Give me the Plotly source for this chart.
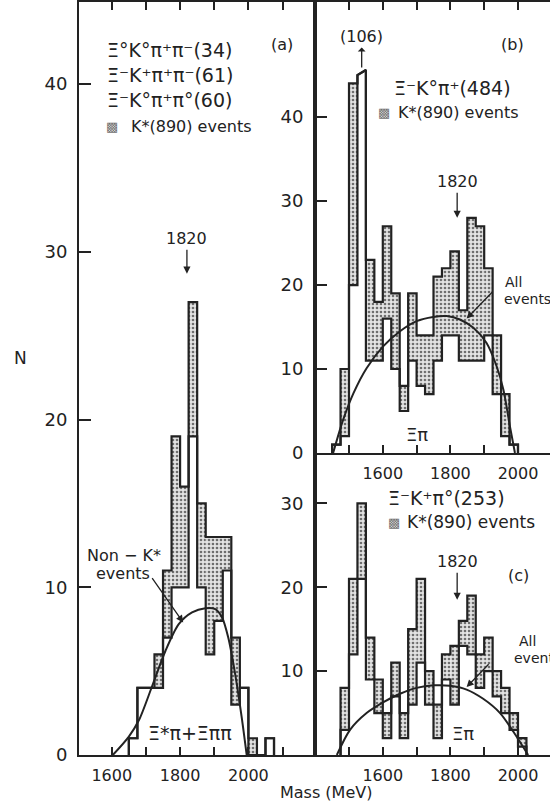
import plotly.graph_objects as go

BIN_W = 25

# ---------------- data ----------------
# Panel (a): Xi K pi pi channels
a_left = [1650, 1675, 1700, 1725, 1750, 1775, 1800, 1825, 1850, 1875, 1900, 1925, 1950, 1975, 2000, 2025, 2050]
a_total = [1, 4, 4, 6, 11, 19, 16, 27, 15, 13, 13, 13, 7, 4, 1, 0, 1]
a_nonk = [1, 4, 4, 4, 7, 10, 10, 19, 10, 6, 8, 11, 3, 4, 0, 0, 1]
a_curve_m = [1603, 1650, 1680, 1718, 1757, 1796, 1835, 1874, 1903, 1923, 1941, 1961, 1980, 1995]
a_curve_n = [0, 1.1, 2.1, 4.1, 6.2, 7.8, 8.5, 8.75, 8.7, 8.2, 7.0, 4.85, 2.3, 0]

# Panel (b): Xi- K0 pi+ (484)
b_left = [1450, 1475, 1500, 1525, 1550, 1575, 1600, 1625, 1650, 1675, 1700, 1725, 1750, 1775, 1800, 1825, 1850, 1875, 1900, 1925, 1950, 1975]
b_total = [1, 10, 44, 106, 23, 18, 27, 19, 8, 19, 14, 14, 21, 22, 24, 17, 28, 27, 22, 14, 7, 1]
b_nonk = [1, 2, 20, 106, 11, 11, 16, 10, 5, 11, 8, 7, 11, 14, 14, 11, 11, 11, 14, 7, 2, 1]
b_curve_m = [1453, 1483, 1513, 1552, 1601, 1651, 1700, 1749, 1789, 1828, 1868, 1907, 1937, 1957, 1976, 1991]
b_curve_n = [0, 4.0, 7.1, 10.1, 12.7, 14.5, 15.7, 16.2, 16.3, 15.9, 14.9, 13.1, 10.3, 7.5, 3.2, 0]

# Panel (c): Xi- K+ pi0 (253)
c_left = [1475, 1500, 1525, 1550, 1575, 1600, 1625, 1650, 1675, 1700, 1725, 1750, 1775, 1800, 1825, 1850, 1875, 1900, 1925, 1950, 1975, 2000]
c_total = [8, 21, 30, 14, 9, 5, 11, 5, 15, 21, 10, 6, 12, 13, 16, 19, 12, 14, 10, 8, 5, 2]
c_nonk = [3, 12, 21, 9, 5, 2, 7, 2, 6, 11, 6, 2, 9, 6, 13, 12, 8, 10, 7, 5, 3, 1]
c_curve_m = [1464, 1503, 1552, 1602, 1651, 1700, 1750, 1799, 1848, 1897, 1947, 1986, 2030]
c_curve_n = [0, 3.0, 5.0, 6.3, 7.3, 8.0, 8.3, 8.25, 7.8, 6.7, 5.0, 2.8, 0]

x_ticks_a = [1600, 1700, 1800, 1900, 2000, 2100]
x_text_a = ["1600", "", "1800", "", "2000", ""]
x_ticks_bc = [1500, 1600, 1700, 1800, 1900, 2000]
x_text_bc = ["", "1600", "", "1800", "", "2000"]

# ---------------- styling ----------------
W, H = 550, 807
FONT = "DejaVu Sans"
INK = "#222222"
B_CAP = (45.0, 45.6, 46.0)  # slanted top drawn for the off-scale (106) bin

XA = [79 / W, 315 / W]
XB = [315 / W, 1.0]
YA = [1 - 755 / H, 1 - 2 / H]
YB = [1 - 453 / H, 1 - 2 / H]
YC = [1 - 755 / H, 1 - 453 / H]


def step_xy(left, vals, cap=None):
    xs, ys = [left[0]], [0]
    for l, v in zip(left, vals):
        r = l + BIN_W
        lo = hi = v
        if cap is not None and v > cap[2]:
            lo, hi = cap[0], cap[1]
        xs += [l, r]
        ys += [lo, hi]
    xs.append(left[-1] + BIN_W)
    ys.append(0)
    return xs, ys


fig = go.Figure()


def add_panel(left, total, nonk, cm, cn, xa, ya, cap=None):
    centers = [l + BIN_W / 2 for l in left]
    kstar = [t - n for t, n in zip(total, nonk)]
    fig.add_trace(go.Bar(
        x=centers, y=kstar, base=nonk, width=BIN_W, xaxis=xa, yaxis=ya,
        marker=dict(color="#dcdcdc", line=dict(width=0),
                    pattern=dict(shape=".", fgcolor="#6e6e6e", bgcolor="#e3e3e3",
                                 size=4, solidity=0.35)),
        showlegend=False, hoverinfo="skip"))
    for vals in (nonk, total):
        xs, ys = step_xy(left, vals, cap)
        fig.add_trace(go.Scatter(x=xs, y=ys, mode="lines", xaxis=xa, yaxis=ya,
                                 line=dict(color=INK, width=2.2),
                                 showlegend=False, hoverinfo="skip"))
    fig.add_trace(go.Scatter(x=cm, y=cn, mode="lines", xaxis=xa, yaxis=ya,
                             line=dict(color=INK, width=2, shape="spline", smoothing=0.8),
                             showlegend=False, hoverinfo="skip"))


add_panel(a_left, a_total, a_nonk, a_curve_m, a_curve_n, "x", "y")
add_panel(b_left, b_total, b_nonk, b_curve_m, b_curve_n, "x2", "y2", cap=B_CAP)
add_panel(c_left, c_total, c_nonk, c_curve_m, c_curve_n, "x3", "y3")

xcommon = dict(showline=True, linewidth=2, linecolor=INK, ticks="inside", ticklen=8,
               tickwidth=1.5, tickcolor=INK, showgrid=False, zeroline=False,
               tickfont=dict(family=FONT, size=16, color=INK), automargin=False,
               ticklabelstandoff=5, fixedrange=True)
ycommon = dict(showline=True, linewidth=2, linecolor=INK, ticks="inside", ticklen=12,
               tickwidth=1.5, tickcolor=INK, showgrid=False, zeroline=False,
               tickfont=dict(family=FONT, size=18, color=INK), automargin=False,
               ticklabelstandoff=6, fixedrange=True)

fig.update_layout(
    width=W, height=H, margin=dict(l=0, r=0, t=0, b=0),
    paper_bgcolor="white", plot_bgcolor="white", template="none",
    barmode="overlay", showlegend=False,
    xaxis=dict(xcommon, domain=XA, range=[1504, 2195], anchor="y",
               tickvals=x_ticks_a, ticktext=x_text_a, mirror="ticks"),
    xaxis2=dict(xcommon, domain=XB, range=[1399.4, 2094.7], anchor="y2",
                tickvals=x_ticks_bc, ticktext=x_text_bc, mirror="ticks"),
    xaxis3=dict(xcommon, domain=XB, range=[1399.4, 2094.7], anchor="y3",
                tickvals=x_ticks_bc, ticktext=x_text_bc),
    yaxis=dict(ycommon, domain=YA, range=[0, 44.9], anchor="x",
               tickvals=[0, 10, 20, 30, 40], mirror=True),
    yaxis2=dict(ycommon, domain=YB, range=[0, 53.7], anchor="x2",
                tickvals=[0, 10, 20, 30, 40]),
    yaxis3=dict(ycommon, domain=YC, range=[0, 36], anchor="x3",
                tickvals=[0, 10, 20, 30], ticktext=["", "10", "20", "30"]),
)

ann = []


def ptxt(text, px, py, size=16, xanchor="center", color=INK):
    ann.append(dict(text=text, x=px / W, y=1 - py / H, xref="paper", yref="paper",
                    xanchor=xanchor, yanchor="middle", showarrow=False,
                    font=dict(family=FONT, size=size, color=color)))


def arrow(text, x, y, xref, yref, ax, ay, side="end", size=16):
    ann.append(dict(text=text, x=x, y=y, xref=xref, yref=yref, ax=ax, ay=ay,
                    showarrow=True, arrowhead=2, arrowsize=1.1, arrowwidth=1.3,
                    arrowcolor=INK, arrowside=side,
                    font=dict(family=FONT, size=size, color=INK)))


STIP = "#707070"

# panel (a)
ptxt("Ξ°K°π⁺π⁻(34)", 105, 50, size=19, xanchor="left")
ptxt("Ξ⁻K⁺π⁺π⁻(61)", 105, 75, size=19, xanchor="left")
ptxt("Ξ⁻K°π⁺π°(60)", 105, 100, size=19, xanchor="left")
ptxt("▩", 112, 127, size=13, color=STIP)
ptxt("K*(890) events", 129, 127, xanchor="left")
ptxt("(a)", 282, 45)
ptxt("N", 20, 358, size=17)
ptxt("Non − K*", 124, 555)
ptxt("events", 123, 573)
ptxt("Ξ*π+Ξππ", 190, 733, size=19)
ptxt("Mass (MeV)", 326, 792, size=16)
arrow("1820", 1820, 28.7, "x", "y", 0, -35)
arrow(" ", 1809, 7.9, "x", "y", -35, -50)

# panel (b)
arrow("(106)", 1537.5, 45.9, "x2", "y2", 0, -31, side="start")
ptxt("(b)", 512, 45)
ptxt("Ξ⁻K°π⁺(484)", 392, 88, size=19, xanchor="left")
ptxt("▩", 384, 113, size=13, color=STIP)
ptxt("K*(890) events", 396, 113, xanchor="left")
arrow("1820", 1820, 28.0, "x2", "y2", 0, -36)
ptxt("All", 503, 282, size=14, xanchor="left")
ptxt("events", 502, 299, size=14, xanchor="left")
arrow(" ", 1848, 16.0, "x2", "y2", 30, -31)
ptxt("Ξπ", 417, 435, size=18)

# panel (c)
ptxt("Ξ⁻K⁺π°(253)", 386, 498, size=19, xanchor="left")
ptxt("▩", 394, 522, size=13, color=STIP)
ptxt("K*(890) events", 405, 522, size=17, xanchor="left")
arrow("1820", 1820, 18.5, "x3", "y3", 0, -38)
ptxt("(c)", 518, 575)
ptxt("All", 517, 641, size=14, xanchor="left")
ptxt("events", 512, 658, size=14, xanchor="left")
arrow(" ", 1848, 8.1, "x3", "y3", 26, -27)
ptxt("Ξπ", 463, 733, size=18)

fig.update_layout(annotations=ann)

fig.write_html(
    "out.html",
    config={"displayModeBar": False},
    post_script="document.body.style.margin='0';document.body.style.overflow='hidden';",
)
